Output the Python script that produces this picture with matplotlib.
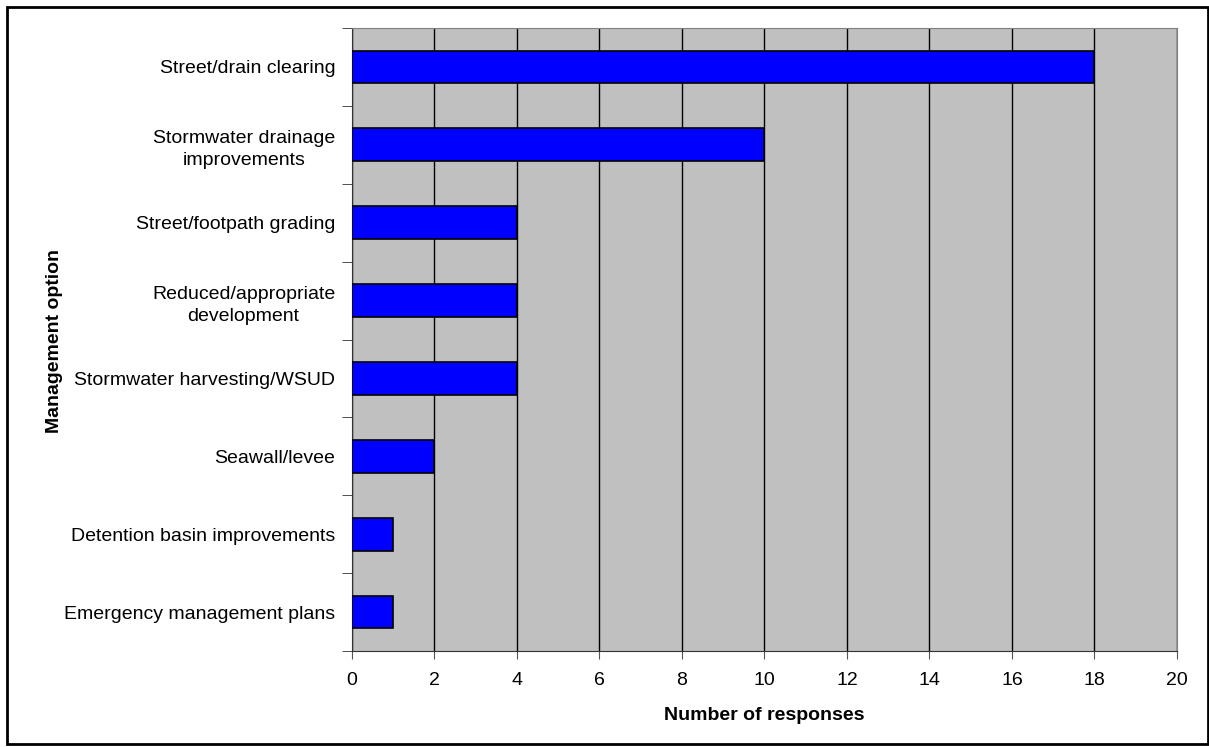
import matplotlib.pyplot as plt
from matplotlib.patches import Rectangle
import numpy as np

plt.rcParams['font.family'] = ['Liberation Sans', 'DejaVu Sans']

options = ['Street/drain clearing', 'Stormwater drainage\nimprovements',
           'Street/footpath grading', 'Reduced/appropriate\ndevelopment',
           'Stormwater harvesting/WSUD', 'Seawall/levee',
           'Detention basin improvements', 'Emergency management plans']
responses = [18, 10, 4, 4, 4, 2, 1, 1]

fig = plt.figure(figsize=(12.09, 7.47), dpi=100)
ax = fig.add_axes([0.291, 0.1285, 0.6825, 0.834])
ax.set_facecolor('#C0C0C0')

pos = np.arange(len(options))
ax.barh(pos, responses, height=0.42, color='#0000FF', edgecolor='black',
        linewidth=1.2, zorder=3)

ax.set_xlim(0, 20)
ax.set_ylim(len(options) - 0.5, -0.5)
ax.set_xticks(np.arange(0, 21, 2))
ax.set_yticks(pos)
ax.set_yticklabels(options, multialignment='center', linespacing=1.4)
ax.set_yticks(np.arange(-0.5, len(options), 1), minor=True)
ax.tick_params(axis='y', which='major', length=0, pad=12, labelsize=14)
ax.tick_params(axis='y', which='minor', length=7, direction='out', color='#333333')
ax.tick_params(axis='x', length=6, direction='out', pad=9, labelsize=14, color='#555555')
ax.xaxis.grid(True, color='black', linewidth=1, zorder=1)
ax.set_axisbelow(True)

for side in ['left', 'bottom']:
    ax.spines[side].set_color('#333333')
for side in ['top', 'right']:
    ax.spines[side].set_color('#808080')

ax.set_xlabel('Number of responses', fontsize=14, fontweight='bold')
ax.set_ylabel('Management option', fontsize=14, fontweight='bold')
ax.xaxis.set_label_coords(0.5, -0.09)
ax.yaxis.set_label_coords(-0.35, 0.497)

fig.patches.append(Rectangle((0.006, 0.004), 0.993, 0.986, transform=fig.transFigure,
                             fill=False, edgecolor='black', linewidth=2))

fig.savefig('out.png', dpi=100)
